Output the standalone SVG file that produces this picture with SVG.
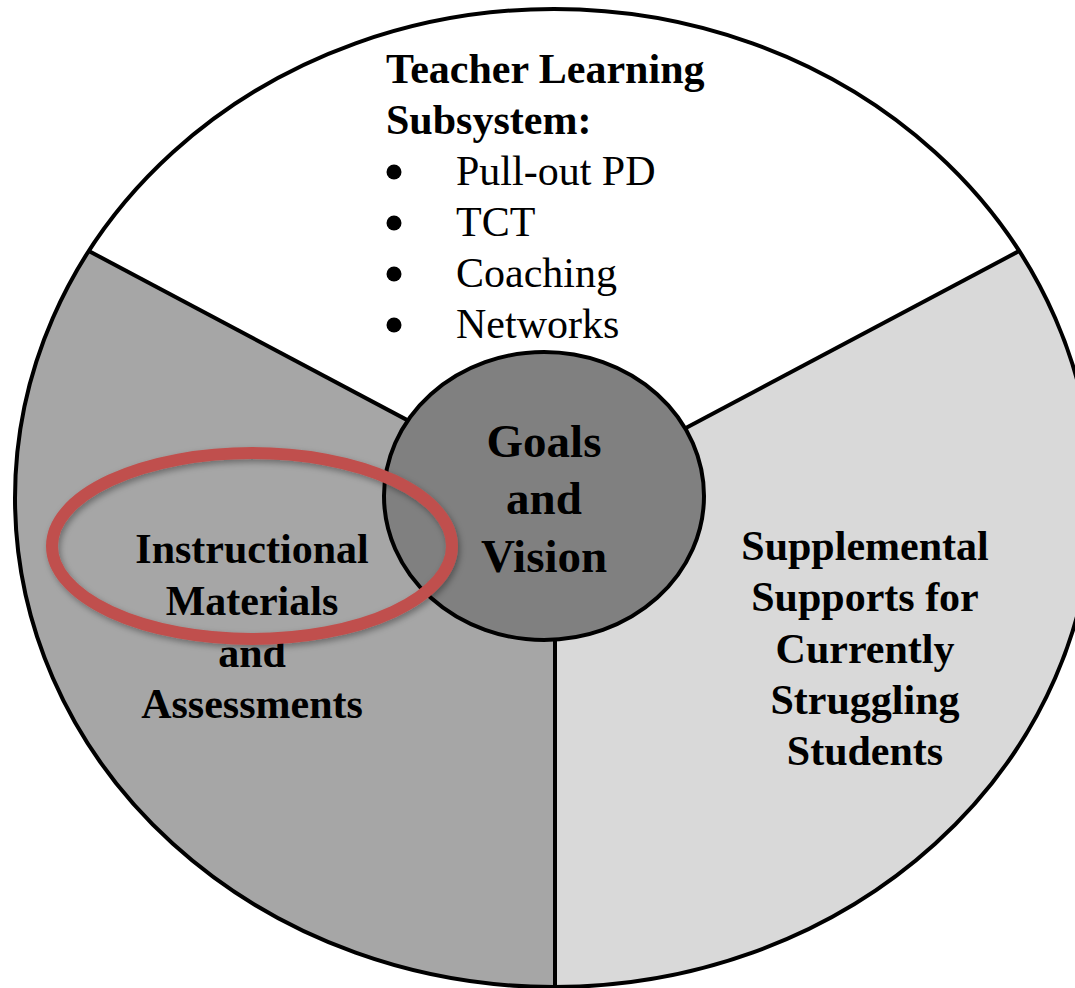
<svg xmlns="http://www.w3.org/2000/svg" width="1075" height="988" viewBox="0 0 1075 988">
<style>
.b{font-family:"Liberation Serif","Times New Roman",serif;font-weight:bold;font-size:42px;fill:#000}
.r{font-family:"Liberation Serif","Times New Roman",serif;font-size:42px;fill:#000}
.g{font-family:"Liberation Serif","Times New Roman",serif;font-weight:bold;font-size:47px;fill:#000}
.ln{stroke:#000;stroke-width:4;fill:none}
</style>
<defs>
<filter id="sh" x="-20%" y="-30%" width="140%" height="160%">
<feDropShadow dx="2" dy="3" stdDeviation="3" flood-color="#000" flood-opacity="0.35"/>
</filter>
</defs>
<rect width="1075" height="988" fill="#fff"/>
<g id="teacher-learning">
<path d="M554,498 L88.8,251 A539,489 0 0,1 1019.2,251 Z" fill="#fff"/>
<text class="b" x="386" y="83">Teacher Learning</text>
<text class="b" x="386" y="134">Subsystem:</text>
<circle cx="394" cy="172" r="7.5"/>
<circle cx="394" cy="223" r="7.5"/>
<circle cx="394" cy="274" r="7.5"/>
<circle cx="394" cy="325" r="7.5"/>
<text class="r" x="456" y="185">Pull-out PD</text>
<text class="r" x="456" y="236">TCT</text>
<text class="r" x="456" y="287">Coaching</text>
<text class="r" x="456" y="338">Networks</text>
</g>
<g id="instructional-materials">
<path d="M554,498 L88.8,251 A539,489 0 0,0 554,987 Z" fill="#a6a6a6"/>
</g>
<g id="supplemental-supports">
<path d="M554,498 L1019.2,251 A539,489 0 0,1 554,987 Z" fill="#d9d9d9"/>
<text class="b" text-anchor="middle" x="865" y="560">Supplemental</text>
<text class="b" text-anchor="middle" x="865" y="611">Supports for</text>
<text class="b" text-anchor="middle" x="865" y="663">Currently</text>
<text class="b" text-anchor="middle" x="865" y="714">Struggling</text>
<text class="b" text-anchor="middle" x="865" y="765">Students</text>
</g>
<g id="connectors">
<line class="ln" x1="554" y1="498" x2="88.8" y2="251"/>
<line class="ln" x1="554" y1="498" x2="1019.2" y2="251"/>
<line class="ln" x1="555" y1="600" x2="555" y2="988"/>
<ellipse class="ln" cx="554" cy="498" rx="539" ry="489" stroke-width="5"/>
</g>
<g id="goals-vision">
<ellipse cx="544" cy="496" rx="160" ry="144" fill="#808080" stroke="#000" stroke-width="4"/>
<text class="g" text-anchor="middle" x="544" y="457">Goals</text>
<text class="g" text-anchor="middle" x="544" y="514">and</text>
<text class="g" text-anchor="middle" x="544" y="572">Vision</text>
</g>
<g id="instructional-text">
<text class="b" text-anchor="middle" x="252" y="563">Instructional</text>
<text class="b" text-anchor="middle" x="252" y="615">Materials</text>
<text class="b" text-anchor="middle" x="252" y="667">and</text>
<text class="b" text-anchor="middle" x="252" y="718">Assessments</text>
</g>
<g id="highlight">
<ellipse cx="252" cy="546" rx="200" ry="93" fill="none" stroke="#c0504d" stroke-width="12" filter="url(#sh)"/>
</g>
</svg>
